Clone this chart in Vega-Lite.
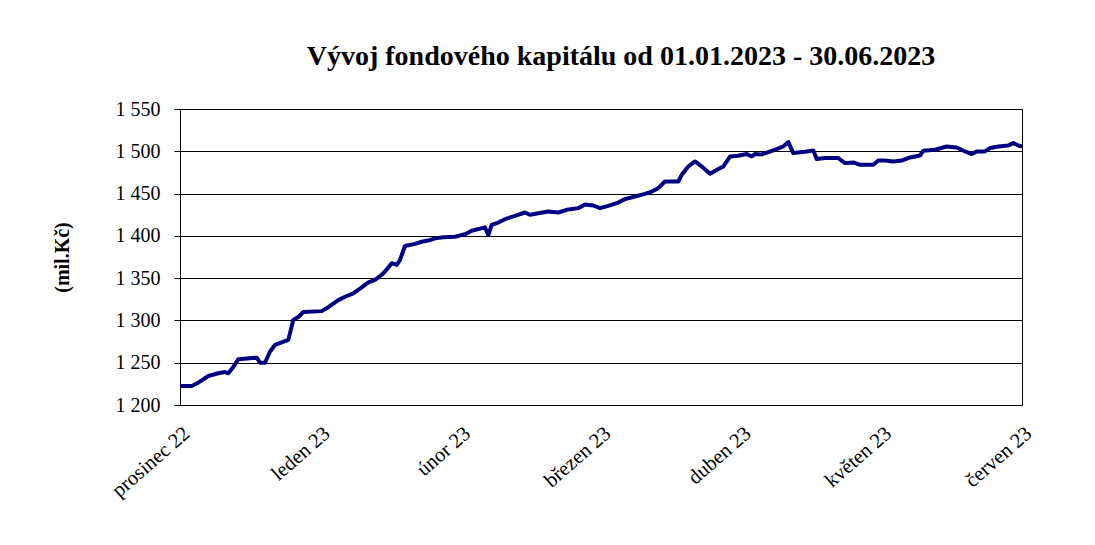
{
  "$schema": "https://vega.github.io/schema/vega-lite/v6.json",
  "width": 842,
  "height": 296,
  "autosize": "none",
  "padding": {"left": 180, "top": 109, "right": 73, "bottom": 140},
  "background": "white",
  "title": {
    "text": "Vývoj fondového kapitálu od 01.01.2023 - 30.06.2023",
    "font": "Liberation Serif",
    "fontSize": 28,
    "fontWeight": "bold",
    "color": "black",
    "anchor": "middle",
    "dx": 20,
    "offset": 6,
    "baseline": "alphabetic"
  },
  "config": {"view": {"stroke": "black", "strokeWidth": 1}},
  "data": {
    "values": [
      {"mesic": 0.000, "kapital": 1222.5},
      {"mesic": 0.083, "kapital": 1222.5},
      {"mesic": 0.130, "kapital": 1226.4},
      {"mesic": 0.202, "kapital": 1234.3},
      {"mesic": 0.273, "kapital": 1237.5},
      {"mesic": 0.321, "kapital": 1239.0},
      {"mesic": 0.344, "kapital": 1237.5},
      {"mesic": 0.380, "kapital": 1245.0},
      {"mesic": 0.415, "kapital": 1254.0},
      {"mesic": 0.475, "kapital": 1255.0},
      {"mesic": 0.547, "kapital": 1256.0},
      {"mesic": 0.570, "kapital": 1250.0},
      {"mesic": 0.606, "kapital": 1250.0},
      {"mesic": 0.641, "kapital": 1263.0},
      {"mesic": 0.677, "kapital": 1271.0},
      {"mesic": 0.725, "kapital": 1274.0},
      {"mesic": 0.772, "kapital": 1277.0},
      {"mesic": 0.807, "kapital": 1300.6},
      {"mesic": 0.843, "kapital": 1304.0},
      {"mesic": 0.879, "kapital": 1310.0},
      {"mesic": 1.010, "kapital": 1311.0},
      {"mesic": 1.057, "kapital": 1315.6},
      {"mesic": 1.128, "kapital": 1324.0},
      {"mesic": 1.176, "kapital": 1328.0},
      {"mesic": 1.235, "kapital": 1332.0},
      {"mesic": 1.295, "kapital": 1339.0},
      {"mesic": 1.342, "kapital": 1345.0},
      {"mesic": 1.390, "kapital": 1348.0},
      {"mesic": 1.437, "kapital": 1354.0},
      {"mesic": 1.461, "kapital": 1357.8},
      {"mesic": 1.509, "kapital": 1367.7},
      {"mesic": 1.544, "kapital": 1365.7},
      {"mesic": 1.568, "kapital": 1371.6},
      {"mesic": 1.603, "kapital": 1388.0},
      {"mesic": 1.675, "kapital": 1390.5},
      {"mesic": 1.722, "kapital": 1393.0},
      {"mesic": 1.769, "kapital": 1394.4},
      {"mesic": 1.817, "kapital": 1397.0},
      {"mesic": 1.876, "kapital": 1398.4},
      {"mesic": 1.960, "kapital": 1399.0},
      {"mesic": 2.031, "kapital": 1402.0},
      {"mesic": 2.079, "kapital": 1406.0},
      {"mesic": 2.173, "kapital": 1410.0},
      {"mesic": 2.197, "kapital": 1401.0},
      {"mesic": 2.221, "kapital": 1413.0},
      {"mesic": 2.268, "kapital": 1415.7},
      {"mesic": 2.316, "kapital": 1419.7},
      {"mesic": 2.387, "kapital": 1423.7},
      {"mesic": 2.458, "kapital": 1427.6},
      {"mesic": 2.494, "kapital": 1424.9},
      {"mesic": 2.553, "kapital": 1426.8},
      {"mesic": 2.625, "kapital": 1428.8},
      {"mesic": 2.696, "kapital": 1427.6},
      {"mesic": 2.756, "kapital": 1430.8},
      {"mesic": 2.838, "kapital": 1432.8},
      {"mesic": 2.886, "kapital": 1437.0},
      {"mesic": 2.945, "kapital": 1435.9},
      {"mesic": 2.993, "kapital": 1432.8},
      {"mesic": 3.052, "kapital": 1435.5},
      {"mesic": 3.123, "kapital": 1439.4},
      {"mesic": 3.171, "kapital": 1443.4},
      {"mesic": 3.242, "kapital": 1446.5},
      {"mesic": 3.314, "kapital": 1449.7},
      {"mesic": 3.361, "kapital": 1452.4},
      {"mesic": 3.408, "kapital": 1456.4},
      {"mesic": 3.456, "kapital": 1464.3},
      {"mesic": 3.551, "kapital": 1464.3},
      {"mesic": 3.575, "kapital": 1472.2},
      {"mesic": 3.622, "kapital": 1482.0},
      {"mesic": 3.670, "kapital": 1488.0},
      {"mesic": 3.718, "kapital": 1482.0},
      {"mesic": 3.777, "kapital": 1473.4},
      {"mesic": 3.836, "kapital": 1479.0},
      {"mesic": 3.872, "kapital": 1482.0},
      {"mesic": 3.919, "kapital": 1493.8},
      {"mesic": 3.978, "kapital": 1494.7},
      {"mesic": 4.038, "kapital": 1496.7},
      {"mesic": 4.074, "kapital": 1493.8},
      {"mesic": 4.097, "kapital": 1496.7},
      {"mesic": 4.145, "kapital": 1496.3},
      {"mesic": 4.192, "kapital": 1499.0},
      {"mesic": 4.252, "kapital": 1502.6},
      {"mesic": 4.299, "kapital": 1505.7},
      {"mesic": 4.335, "kapital": 1510.9},
      {"mesic": 4.370, "kapital": 1497.9},
      {"mesic": 4.454, "kapital": 1499.5},
      {"mesic": 4.513, "kapital": 1501.0},
      {"mesic": 4.537, "kapital": 1490.8},
      {"mesic": 4.596, "kapital": 1492.0},
      {"mesic": 4.691, "kapital": 1492.0},
      {"mesic": 4.739, "kapital": 1486.0},
      {"mesic": 4.798, "kapital": 1486.8},
      {"mesic": 4.846, "kapital": 1484.0},
      {"mesic": 4.941, "kapital": 1484.0},
      {"mesic": 4.976, "kapital": 1489.0},
      {"mesic": 5.024, "kapital": 1489.0},
      {"mesic": 5.083, "kapital": 1488.0},
      {"mesic": 5.143, "kapital": 1489.0},
      {"mesic": 5.202, "kapital": 1492.7},
      {"mesic": 5.273, "kapital": 1495.0},
      {"mesic": 5.297, "kapital": 1500.6},
      {"mesic": 5.380, "kapital": 1501.8},
      {"mesic": 5.463, "kapital": 1505.7},
      {"mesic": 5.535, "kapital": 1504.5},
      {"mesic": 5.594, "kapital": 1499.8},
      {"mesic": 5.642, "kapital": 1496.7},
      {"mesic": 5.677, "kapital": 1499.8},
      {"mesic": 5.736, "kapital": 1499.8},
      {"mesic": 5.772, "kapital": 1503.8},
      {"mesic": 5.831, "kapital": 1505.7},
      {"mesic": 5.902, "kapital": 1506.9},
      {"mesic": 5.938, "kapital": 1509.7},
      {"mesic": 5.974, "kapital": 1506.9},
      {"mesic": 6.000, "kapital": 1505.7}
    ]
  },
  "mark": {"type": "line", "color": "#000080", "strokeWidth": 4, "strokeJoin": "round"},
  "encoding": {
    "x": {
      "field": "mesic",
      "type": "quantitative",
      "scale": {"domain": [0, 6], "nice": false, "zero": false},
      "axis": {
        "values": [0, 1, 2, 3, 4, 5, 6],
        "labelExpr": "['prosinec 22','leden 23','únor 23','březen 23','duben 23','květen 23','červen 23'][datum.value]",
        "labelAngle": -41,
        "labelAlign": "right",
        "labelBaseline": "top",
        "labelPadding": 18,
        "labelFont": "Liberation Serif",
        "labelFontSize": 20.5,
        "labelColor": "black",
        "labelOverlap": false,
        "labelFlush": false,
        "ticks": false,
        "grid": false,
        "domainColor": "black",
        "title": null
      }
    },
    "y": {
      "field": "kapital",
      "type": "quantitative",
      "scale": {"domain": [1200, 1550], "nice": false, "zero": false},
      "axis": {
        "values": [1200, 1250, 1300, 1350, 1400, 1450, 1500, 1550],
        "labelExpr": "replace(format(datum.value, ','), ',', ' ')",
        "labelFont": "Liberation Serif",
        "labelFontSize": 20,
        "labelColor": "black",
        "tickSize": 6,
        "tickColor": "black",
        "labelPadding": 14,
        "domainColor": "black",
        "gridColor": "black",
        "gridOpacity": 1,
        "title": "(mil.Kč)",
        "titleFont": "Liberation Serif",
        "titleFontSize": 20,
        "titleFontWeight": "bold",
        "titleColor": "black",
        "titleX": -118,
        "titleY": 148,
        "titleAngle": -90,
        "titleAlign": "center",
        "titleBaseline": "middle"
      }
    }
  }
}
